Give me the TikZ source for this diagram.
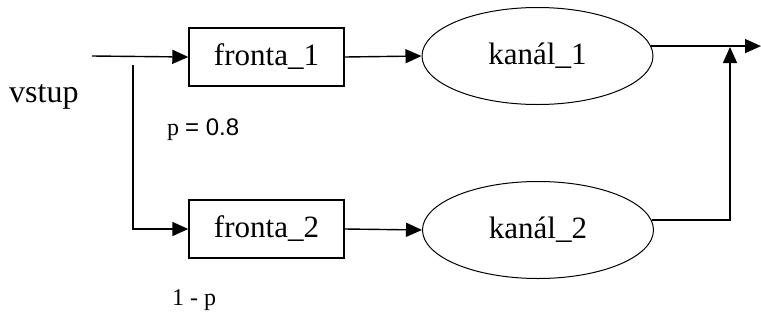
\documentclass[tikz,border=0pt]{standalone}
\usepackage{fontspec}
\setmainfont{Liberation Serif}
\newfontfamily\labsans{Liberation Sans}
\usetikzlibrary{shapes.geometric,arrows.meta}
\begin{document}
\begin{tikzpicture}[x=1pt,y=-1pt,
  conn/.style={line width=1.4pt,-{Triangle[length=16pt,width=14pt]}},
  boxnode/.style={draw,line width=1.4pt,minimum width=155pt,minimum height=58pt,inner sep=0pt,font=\fontsize{31}{31}\selectfont},
  ellnode/.style={draw,ellipse,line width=1pt,minimum width=231pt,minimum height=97pt,inner sep=0pt,font=\fontsize{31}{31}\selectfont},
  lab/.style={inner sep=0pt,anchor=west}]
\useasboundingbox[fill=white] (0,0) rectangle (761,322);
\node[boxnode] (f1) at (266.5,57) {fronta\_1};
\node[boxnode] (f2) at (266.5,229) {fronta\_2};
\node[ellnode] (k1) at (537.5,56) {kanál\_1};
\node[ellnode] (k2) at (538,230) {kanál\_2};
\coordinate (in) at (92,56);
\coordinate (br) at (133,65);
\coordinate (out) at (761,46);
\coordinate (join) at (730,47);
\node[lab,font=\fontsize{32}{32}\selectfont] (vs) at (9,97) {vstup};
\node[lab,font=\fontsize{24}{24}\selectfont] (p1) at (167,130) {p {\labsans = 0.8}};
\node[lab,font=\fontsize{24}{24}\selectfont] (p2) at (172,300) {1 - p};
\draw[conn] (in) -- (f1.west);
\draw[conn] (br) |- (f2.west);
\draw[conn] (f1.east) -- (k1.west);
\draw[conn] (f2.east) -- (k2.west);
\draw[conn] (k1.5) -- (k1.5 -| out);
\draw[conn] (k2.5) -| (join);
\end{tikzpicture}
\end{document}
